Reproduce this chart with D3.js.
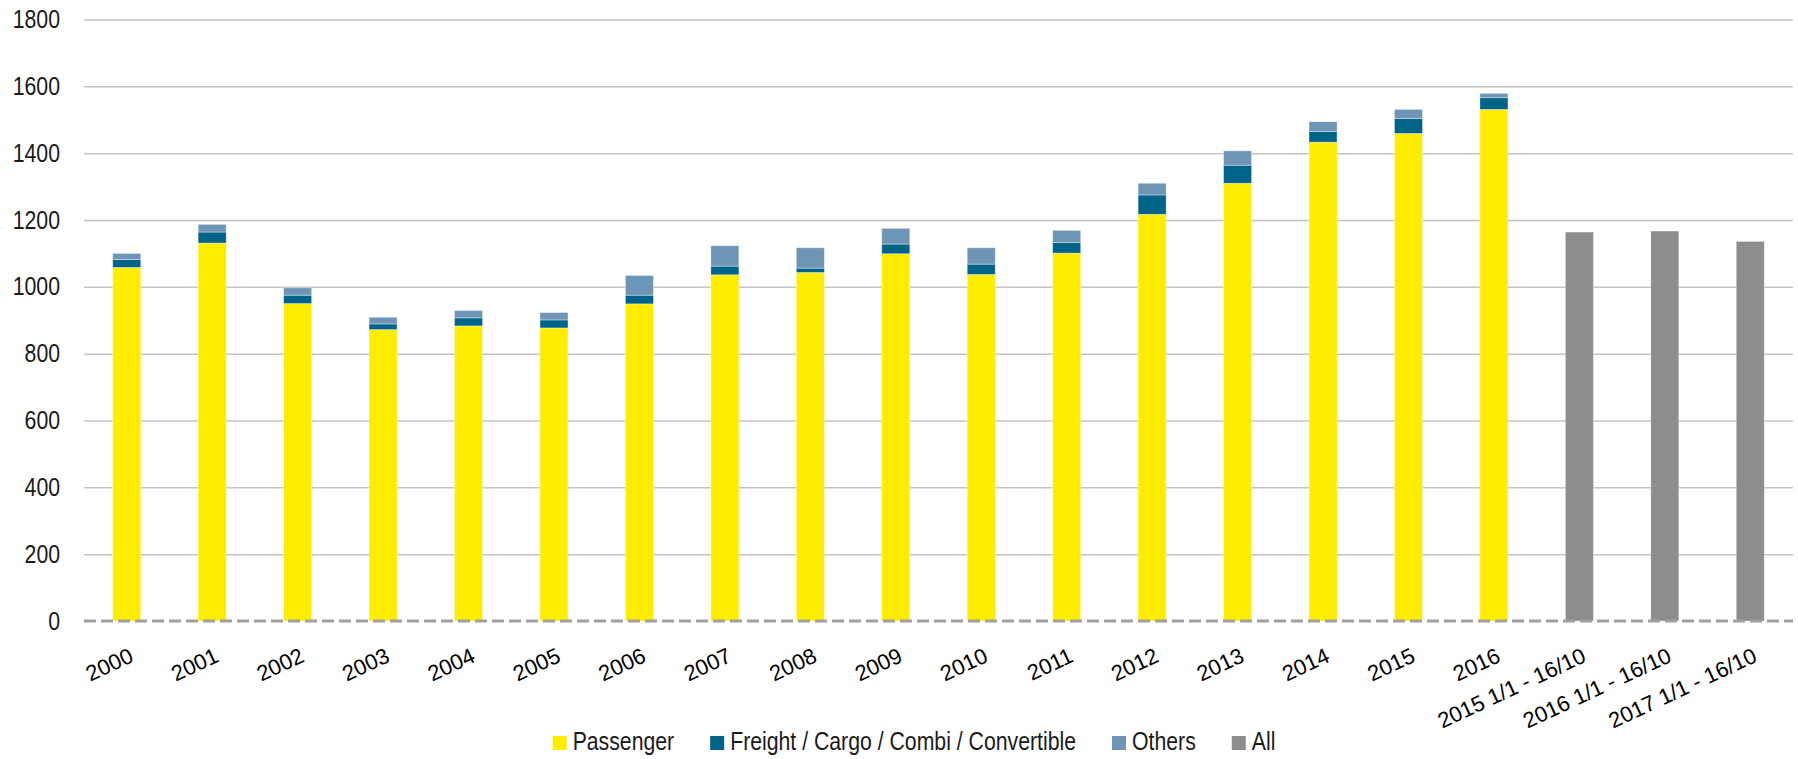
<!DOCTYPE html>
<html>
<head>
<meta charset="utf-8">
<title>Deliveries</title>
<script src="https://cdn.jsdelivr.net/npm/d3@7/dist/d3.min.js"></script>
<style>
	body { margin: 0; background: #fff; }
	.ytick text { font-family: "Liberation Sans Narrow", "Liberation Sans", Arial, sans-serif; font-size: 25px; fill: #1a1a1a; }
	.xtick text { font-family: "Liberation Sans", Arial, sans-serif; font-size: 22px; fill: #000; }
	.legend text { font-family: "Liberation Sans Narrow", "Liberation Sans", Arial, sans-serif; font-size: 25px; fill: #1a1a1a; }
</style>
</head>
<body>
<svg id="chart"></svg>
<script>

var categories = ["2000", "2001", "2002", "2003", "2004", "2005", "2006", "2007", "2008", "2009",
	"2010", "2011", "2012", "2013", "2014", "2015", "2016",
	"2015 1/1 - 16/10", "2016 1/1 - 16/10", "2017 1/1 - 16/10"];

// null where a series has no bar
var passenger = [1058, 1131, 950, 872, 883, 877, 949, 1036, 1043, 1099,
	1037, 1101, 1217, 1310, 1433, 1459, 1531, null, null, null];
var freight = [24, 33, 25, 17, 24, 24, 26, 26, 13, 29,
	31, 32, 58, 54, 32, 45, 35, null, null, null];
var others = [18, 23, 22, 20, 22, 22, 59, 61, 61, 47,
	49, 36, 35, 43, 29, 27, 13, null, null, null];
var all = [null, null, null, null, null, null, null, null, null, null,
	null, null, null, null, null, null, null, 1164, 1167, 1136];

var yTicks = [0, 200, 400, 600, 800, 1000, 1200, 1400, 1600, 1800];

var seriesNames = ["Passenger", "Freight / Cargo / Combi / Convertible", "Others", "All"];
var seriesColors = ["#ffed00", "#006388", "#6e95b6", "#8d8d8c"];

var width = 1798, height = 759;
var margin = {top: 19.5, right: 5, bottom: 138, left: 84};
var squeeze = 0.85; // no narrow face installed, so compress horizontally

var svg = d3.select("#chart")
	.attr("width", width)
	.attr("height", height);

var x = d3.scaleBand()
	.domain(categories)
	.range([margin.left, width - margin.right])
	.paddingInner(0.672)
	.paddingOuter(0.336);

var y = d3.scaleLinear()
	.domain([0, 1800])
	.range([height - margin.bottom, margin.top]);

// gridlines + y labels
var yAxis = svg.append("g")
	.attr("class", "ytick")
	.attr("transform", "translate(" + margin.left + ",0)")
	.call(d3.axisLeft(y).tickValues(yTicks).tickFormat(d3.format("d"))
		.tickSize(-(width - margin.left - margin.right)).tickPadding(24));
yAxis.select(".domain").remove();
yAxis.selectAll("line")
	.attr("stroke", function(d) { return d === 0 ? "none" : "#c4c4c4"; })
	.attr("stroke-width", 1.5);
yAxis.selectAll("text")
	.attr("x", null)
	.attr("transform", "translate(-24,0) scale(" + squeeze + ",1)");

// build stacked rows
var rows = categories.map(function(c, i) {
	return {cat: c, p: passenger[i] || 0, f: freight[i] || 0, o: others[i] || 0, a: all[i] || 0};
});
var stack = d3.stack().keys(["p", "f", "o", "a"]);
var layers = stack(rows);

svg.append("g").selectAll("g.layer")
	.data(layers)
	.enter()
	.append("g")
	.attr("class", "layer")
	.attr("fill", function(d, i) { return seriesColors[i]; })
	.selectAll("rect")
	.data(function(d) { return d.filter(function(s) { return s[1] - s[0] > 0; }); })
	.enter()
	.append("rect")
	.attr("x", function(d) { return x(d.data.cat); })
	.attr("width", x.bandwidth())
	.attr("y", function(d) { return y(d[1]); })
	.attr("height", function(d) { return y(d[0]) - y(d[1]); })
	.attr("stroke", "#ffffff")
	.attr("stroke-opacity", 0.45)
	.attr("stroke-width", 0.8);

// dashed zero line
svg.append("line")
	.attr("x1", margin.left)
	.attr("x2", width - margin.right)
	.attr("y1", y(0))
	.attr("y2", y(0))
	.attr("stroke", "#a0a0a0")
	.attr("stroke-width", 3)
	.attr("stroke-dasharray", "12,5");

// rotated category labels
svg.append("g")
	.attr("class", "xtick")
	.selectAll("text")
	.data(categories)
	.enter()
	.append("text")
	.attr("text-anchor", "end")
	.attr("transform", function(d) {
		return "translate(" + (x(d) + x.bandwidth() / 2 + 8) + "," + (y(0) + 40) + ") rotate(-25)";
	})
	.text(function(d) { return d; });

// legend
var legend = svg.append("g").attr("class", "legend");
var items = legend.selectAll("g.item")
	.data(seriesNames)
	.enter()
	.append("g")
	.attr("class", "item");
items.append("rect")
	.attr("width", 14)
	.attr("height", 14)
	.attr("y", -14)
	.attr("fill", function(d, i) { return seriesColors[i]; });
items.append("text")
	.attr("transform", "translate(20,0) scale(" + squeeze + ",1)")
	.text(function(d) { return d; });

var offs = [], cur = 0;
items.select("text").each(function() {
	var w = 20 + this.getComputedTextLength() * squeeze;
	offs.push(cur);
	cur += w + 36;
});
var total = cur - 36;
var startX = 914 - total / 2;
items.attr("transform", function(d, i) { return "translate(" + (startX + offs[i]) + ",750)"; });

</script>
</body>
</html>
